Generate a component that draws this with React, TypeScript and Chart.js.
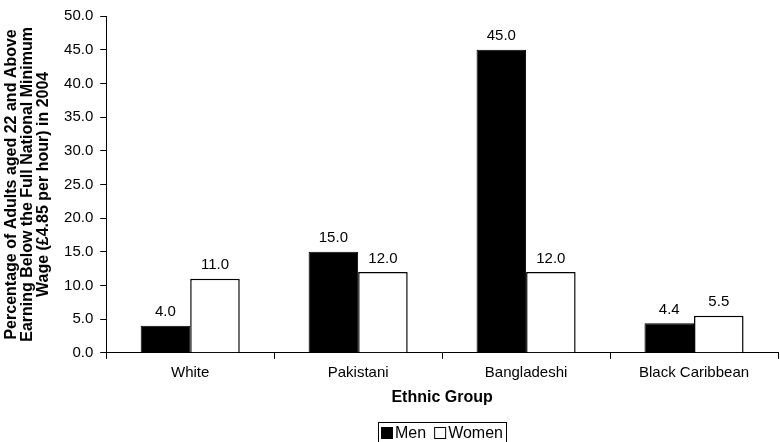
import React, { useEffect, useRef } from "react";
import { Chart, registerables } from "chart.js";

Chart.register(...registerables);

const categories = ["White", "Pakistani", "Bangladeshi", "Black Caribbean"];
const menValues = [4.0, 15.0, 45.0, 4.4];
const womenValues = [11.0, 12.0, 12.0, 5.5];
const yTitleLines = [
  "Percentage of Adults aged 22 and Above",
  "Earning Below the Full National Minimum",
  "Wage (£4.85 per hour) in 2004",
];
const xTitle = "Ethnic Group";

const FONT = "'Liberation Sans', Arial, Helvetica, sans-serif";

// Writes each bar's value above it
const valueLabels = {
  id: "valueLabels",
  afterDatasetsDraw(chart: any) {
    const ctx = chart.ctx;
    ctx.save();
    ctx.font = `15px ${FONT}`;
    ctx.fillStyle = "#000";
    ctx.textAlign = "center";
    ctx.textBaseline = "bottom";
    chart.data.datasets.forEach((ds: any, i: number) => {
      const meta = chart.getDatasetMeta(i);
      meta.data.forEach((bar: any, j: number) => {
        ctx.fillText(Number(ds.data[j]).toFixed(1), bar.x, bar.y - 6);
      });
    });
    ctx.restore();
  },
};

// Boxed legend under the axis title, built from the datasets
const boxedLegend = {
  id: "boxedLegend",
  afterDraw(chart: any) {
    const ctx = chart.ctx;
    const ds = chart.data.datasets;
    ctx.save();
    ctx.font = `16px ${FONT}`;
    const sq = 12;
    const gapAfterSq = 2;
    const gapBetween = 8;
    const widths = ds.map((d: any) => ctx.measureText(d.label).width);
    let total = 0;
    widths.forEach((w: number, i: number) => {
      total += sq + gapAfterSq + w + (i < widths.length - 1 ? gapBetween : 0);
    });
    const pad = 3;
    const cx = (chart.chartArea.left + chart.chartArea.right) / 2;
    const left = Math.round(cx - total / 2 - pad);
    const top = 422;
    const midY = 433;
    ctx.strokeStyle = "#000";
    ctx.lineWidth = 1;
    ctx.strokeRect(left + 0.5, top + 0.5, Math.round(total + pad * 2), 40);
    let x = left + pad;
    ds.forEach((d: any, i: number) => {
      const y0 = Math.round(midY - sq / 2);
      ctx.fillStyle = d.backgroundColor;
      ctx.fillRect(x, y0, sq, sq);
      ctx.strokeStyle = "#000";
      ctx.lineWidth = 1;
      ctx.strokeRect(x + 0.5, y0 + 0.5, sq - 1, sq - 1);
      x += sq + gapAfterSq;
      ctx.fillStyle = "#000";
      ctx.textAlign = "left";
      ctx.textBaseline = "middle";
      ctx.fillText(d.label, x, midY + 1);
      x += widths[i] + gapBetween;
    });
    ctx.restore();
  },
};

export default function App() {
  const ref = useRef<HTMLCanvasElement>(null);

  useEffect(() => {
    document.body.style.margin = "0";
    const chart = new Chart(ref.current as HTMLCanvasElement, {
      type: "bar",
      data: {
        labels: categories,
        datasets: [
          {
            label: "Men",
            data: menValues,
            backgroundColor: "#000",
            borderColor: "#000",
            borderWidth: 1,
            barPercentage: 1,
            categoryPercentage: 0.59,
          },
          {
            label: "Women",
            data: womenValues,
            backgroundColor: "#fff",
            borderColor: "#000",
            borderWidth: 1.5,
            barPercentage: 1,
            categoryPercentage: 0.59,
          },
        ],
      },
      options: {
        animation: false,
        responsive: false,
        layout: { padding: { top: 14, right: 2, left: 4, bottom: 35 } },
        plugins: {
          tooltip: { enabled: false },
          legend: { display: false },
        },
        scales: {
          x: {
            grid: {
              display: true,
              drawOnChartArea: false,
              drawTicks: true,
              tickLength: 6,
              color: "#000",
              offset: true,
            },
            border: { color: "#000", width: 1 },
            ticks: {
              color: "#000",
              font: { family: FONT, size: 15 },
              padding: 5,
              maxRotation: 0,
            },
            title: {
              display: true,
              text: xTitle,
              color: "#000",
              font: { family: FONT, size: 16, weight: "bold" },
              padding: { top: 1, bottom: 0 },
            },
          },
          y: {
            min: 0,
            max: 50,
            grid: {
              display: true,
              drawOnChartArea: false,
              drawTicks: true,
              tickLength: 6,
              color: "#000",
            },
            border: { color: "#000", width: 1 },
            ticks: {
              stepSize: 5,
              color: "#000",
              font: { family: FONT, size: 15 },
              padding: 7,
              callback: (v: any) => Number(v).toFixed(1),
            },
            title: {
              display: true,
              text: yTitleLines,
              color: "#000",
              font: { family: FONT, size: 16, weight: "bold", lineHeight: 0.98 },
              padding: { top: 0, bottom: 6 },
            },
          },
        },
      },
      plugins: [valueLabels, boxedLegend],
    });
    return () => chart.destroy();
  }, []);

  return (
    <div style={{ width: 780, height: 442, background: "#fff" }}>
      <canvas ref={ref} width={780} height={442} />
    </div>
  );
}
